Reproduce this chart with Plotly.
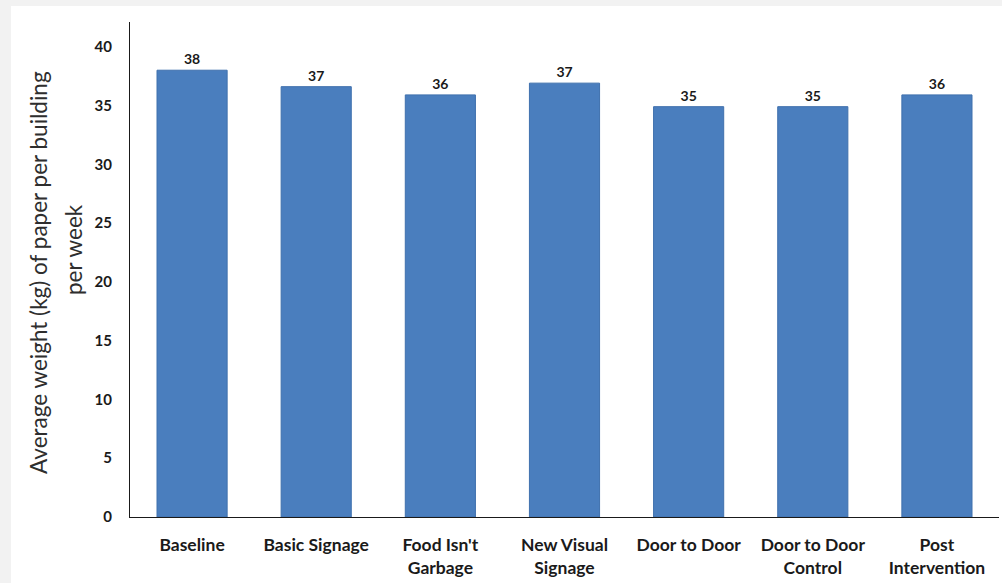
import plotly.graph_objects as go

# Average weekly paper weight per building for each campaign phase
phases = [
    "Baseline",
    "Basic Signage",
    "Food Isn't<br>Garbage",
    "New Visual<br>Signage",
    "Door to Door",
    "Door to Door<br>Control",
    "Post<br>Intervention",
]
avg_weight_kg = [38.0, 36.6, 35.9, 36.9, 34.9, 34.9, 35.9]
y_ticks = [0, 5, 10, 15, 20, 25, 30, 35, 40]

W, H = 1002, 583
M_L, M_R, M_T, M_B = 130, 3, 22, 66

fig = go.Figure()
fig.add_trace(
    go.Bar(
        x=phases,
        y=avg_weight_kg,
        marker=dict(color="#4a7ebe", line=dict(color="#3f70ad", width=1)),
        texttemplate="%{y:.0f}",
        textposition="outside",
        textfont=dict(family="Lato", size=14, color="#1a1a1a", weight="bold"),
        cliponaxis=False,
    )
)

# light frame along the top and left edge of the page
def px_x(px):
    return (px - M_L) / (W - M_L - M_R)

def px_y(py):
    return (H - M_B - py) / (H - M_T - M_B)

fig.add_shape(type="rect", xref="paper", yref="paper",
              x0=px_x(0), x1=px_x(W), y0=px_y(H), y1=px_y(0),
              fillcolor="#f2f2f2", line=dict(width=0), layer="below")
fig.add_shape(type="rect", xref="paper", yref="paper",
              x0=px_x(11), x1=px_x(W), y0=px_y(H), y1=px_y(6),
              fillcolor="white", line=dict(width=0), layer="below")

# two-line vertical axis title
title_font = dict(family="Lato", size=22.5, color="#2e2e2e")
fig.add_annotation(text="Average weight (kg) of paper per building",
                   xref="paper", yref="paper", x=px_x(38), y=px_y(273),
                   textangle=-90, showarrow=False, xanchor="center",
                   yanchor="middle", font=title_font)
fig.add_annotation(text="per week",
                   xref="paper", yref="paper", x=px_x(74), y=px_y(250),
                   textangle=-90, showarrow=False, xanchor="center",
                   yanchor="middle", font=title_font)

fig.update_layout(
    width=W,
    height=H,
    margin=dict(l=M_L, r=M_R, t=M_T, b=M_B, pad=0),
    paper_bgcolor="rgba(0,0,0,0)",
    plot_bgcolor="rgba(0,0,0,0)",
    bargap=0.435,
    showlegend=False,
    xaxis=dict(
        showline=True, linecolor="#1a1a1a", linewidth=1,
        showgrid=False, ticks="",
        tickfont=dict(family="Lato", size=17.5, color="#1a1a1a", weight="bold"),
        ticklabelstandoff=12,
    ),
    yaxis=dict(
        range=[0, 42.1],
        tickvals=y_ticks,
        showline=True, linecolor="#1a1a1a", linewidth=1,
        showgrid=False, zeroline=False, ticks="",
        tickfont=dict(family="Lato", size=15, color="#1a1a1a", weight="bold"),
        ticklabelstandoff=14,
    ),
)

fig.write_html("out.html")
